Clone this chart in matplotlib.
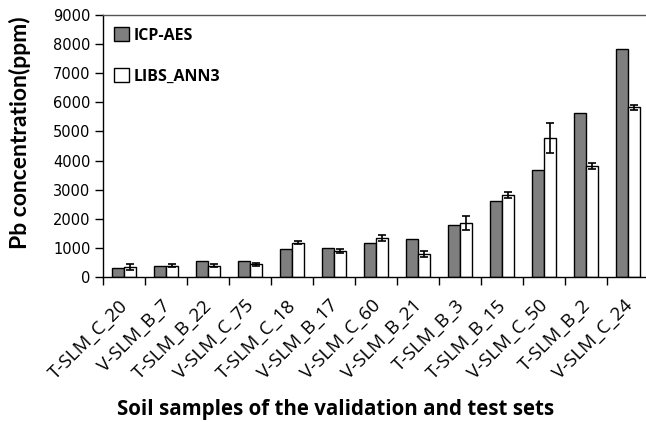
import numpy as np
import matplotlib
matplotlib.use("Agg")
import matplotlib.pyplot as plt

samples = ["T-SLM_C_20", "V-SLM_B_7", "T-SLM_B_22", "V-SLM_C_75", "T-SLM_C_18",
           "V-SLM_B_17", "V-SLM_C_60", "V-SLM_B_21", "T-SLM_B_3", "T-SLM_B_15",
           "V-SLM_C_50", "T-SLM_B_2", "V-SLM_C_24"]
icp_aes = [300, 370, 545, 565, 965, 980, 1170, 1310, 1800, 2615, 3660, 5620, 7820]
libs_ann3 = [335, 380, 395, 440, 1185, 895, 1330, 785, 1855, 2820, 4770, 3810, 5825]
libs_err = [100, 50, 50, 50, 60, 80, 100, 100, 250, 110, 510, 100, 90]

fig = plt.figure(figsize=(6.46, 4.22), dpi=100)
ax = fig.add_axes([0.1594, 0.3436, 0.8406, 0.6209])

x = np.arange(len(samples))
w = 0.29
ax.bar(x - w/2, icp_aes, w, color="#7f7f7f", edgecolor="black", linewidth=1, label="ICP-AES")
ax.bar(x + w/2, libs_ann3, w, color="white", edgecolor="black", linewidth=1, label="LIBS_ANN3",
       yerr=libs_err, error_kw=dict(ecolor="black", elinewidth=1.2, capsize=3, capthick=1.2))

ax.set_xlim(-0.5, 12.43)
ax.set_ylim(0, 9000)
ax.set_yticks(np.arange(0, 9001, 1000))
ax.set_yticklabels([str(v) for v in range(0, 9001, 1000)], fontsize=10.5, family="DejaVu Sans")
ax.tick_params(axis="y", length=6, width=1, pad=3)

ax.set_xticks(x - 0.12)
ax.set_xticklabels(samples, rotation=45, ha="right", va="top", rotation_mode="anchor",
                   fontsize=13.5, family="Open Sans")
ax.tick_params(axis="x", length=0, pad=14)
ax.set_xticks(np.arange(-0.5, 12.5, 1), minor=True)
ax.tick_params(axis="x", which="minor", length=6, width=1)

ax.spines["right"].set_visible(False)
for s in ["left", "bottom", "top"]:
    ax.spines[s].set_linewidth(1)
ax.spines["top"].set_color("#555555")

ax.set_ylabel("Pb concentration(ppm)", fontsize=16.5, fontweight="bold", family="Lato")
ax.yaxis.set_label_coords(-0.132, 0.55)
ax.set_xlabel("Soil samples of the validation and test sets", fontsize=14.8, fontweight="bold",
              family="Open Sans")
ax.xaxis.set_label_coords(0.429, -0.465)

ax.legend(loc="upper left", frameon=False, prop=dict(family="Open Sans", weight="bold", size=11.5),
          handlelength=0.9, handleheight=0.9, handletextpad=0.3, labelspacing=1.55,
          borderaxespad=0.3, bbox_to_anchor=(0.0, 0.995))

fig.savefig("out.png", dpi=100)
